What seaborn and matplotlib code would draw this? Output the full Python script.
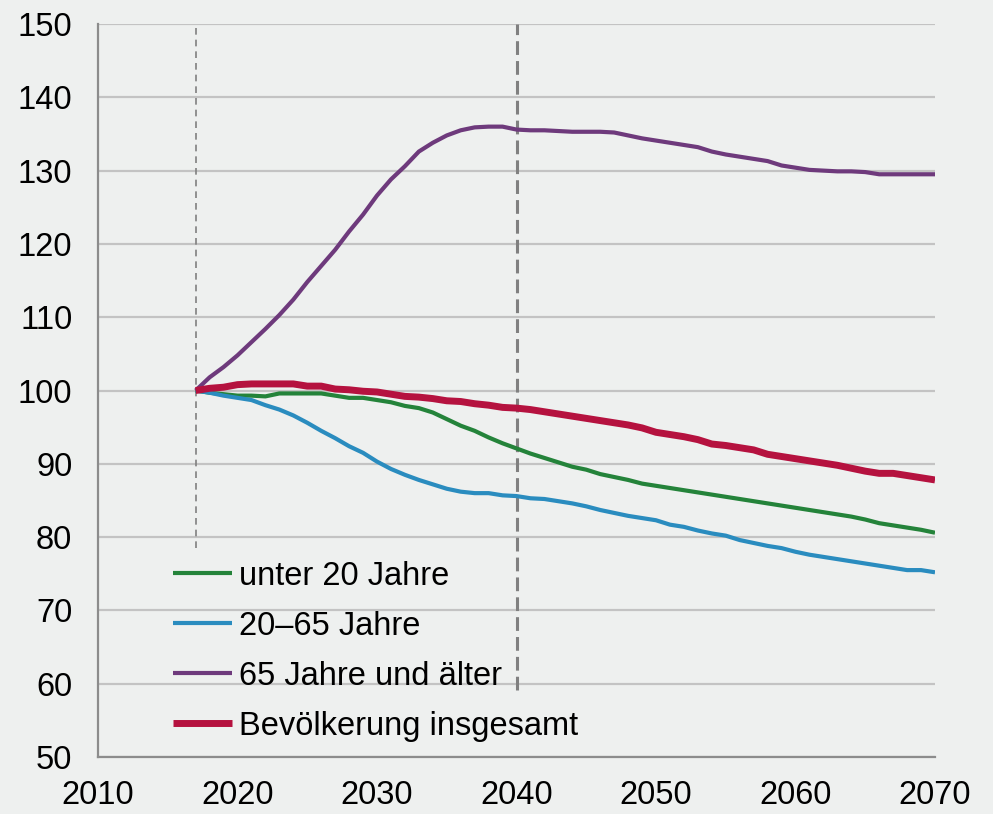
import numpy as np
import pandas as pd
import matplotlib
matplotlib.use("Agg")
import matplotlib.pyplot as plt
import seaborn as sns

# Jahre 2017 bis 2070, Index 2017 = 100
jahre = list(range(2017, 2071))

unter_20 = [100.0, 99.7, 99.5, 99.3, 99.3, 99.2, 99.6, 99.6, 99.6, 99.6,
            99.3, 99.0, 99.0, 98.7, 98.4, 97.9, 97.6, 97.0, 96.1, 95.2,
            94.5, 93.6, 92.8, 92.1, 91.4, 90.8, 90.2, 89.6, 89.2, 88.6,
            88.2, 87.8, 87.3, 87.0, 86.7, 86.4, 86.1, 85.8, 85.5, 85.2,
            84.9, 84.6, 84.3, 84.0, 83.7, 83.4, 83.1, 82.8, 82.4, 81.9,
            81.6, 81.3, 81.0, 80.6]

j20_65 = [100.0, 99.7, 99.3, 99.0, 98.7, 98.0, 97.4, 96.6, 95.6, 94.5,
          93.5, 92.4, 91.5, 90.3, 89.3, 88.5, 87.8, 87.2, 86.6, 86.2,
          86.0, 86.0, 85.7, 85.6, 85.3, 85.2, 84.9, 84.6, 84.2, 83.7,
          83.3, 82.9, 82.6, 82.3, 81.7, 81.4, 80.9, 80.5, 80.2, 79.6,
          79.2, 78.8, 78.5, 78.0, 77.6, 77.3, 77.0, 76.7, 76.4, 76.1,
          75.8, 75.5, 75.5, 75.2]

ab_65 = [100.0, 101.8, 103.2, 104.8, 106.6, 108.4, 110.3, 112.4, 114.8, 117.0,
         119.2, 121.7, 124.0, 126.6, 128.8, 130.6, 132.6, 133.8, 134.8, 135.5,
         135.9, 136.0, 136.0, 135.6, 135.5, 135.5, 135.4, 135.3, 135.3, 135.3,
         135.2, 134.8, 134.4, 134.1, 133.8, 133.5, 133.2, 132.6, 132.2, 131.9,
         131.6, 131.3, 130.7, 130.4, 130.1, 130.0, 129.9, 129.9, 129.8, 129.5,
         129.5, 129.5, 129.5, 129.5]

gesamt = [100.0, 100.3, 100.45, 100.8, 100.9, 100.9, 100.9, 100.9, 100.6, 100.6,
          100.2, 100.1, 99.9, 99.8, 99.5, 99.2, 99.1, 98.9, 98.6, 98.5,
          98.2, 98.0, 97.7, 97.6, 97.4, 97.1, 96.8, 96.5, 96.2, 95.9,
          95.6, 95.3, 94.9, 94.3, 94.0, 93.7, 93.3, 92.7, 92.5, 92.2,
          91.9, 91.3, 91.0, 90.7, 90.4, 90.1, 89.8, 89.4, 89.0, 88.7,
          88.7, 88.4, 88.1, 87.8]

serien = ["unter 20 Jahre", "20–65 Jahre", "65 Jahre und älter", "Bevölkerung insgesamt"]
farben = ["#24833a", "#2a8cbf", "#6e3a7c", "#b5123f"]
breiten = [3.0, 3.0, 3.0, 5.0]

df = pd.DataFrame({"Jahr": jahre, serien[0]: unter_20, serien[1]: j20_65,
                   serien[2]: ab_65, serien[3]: gesamt})
df_long = df.melt(id_vars="Jahr", var_name="Gruppe", value_name="Index")

sns.set_style("white")
plt.rcParams["font.family"] = ["Liberation Sans", "DejaVu Sans"]
bg = "#eef0ef"

fig = plt.figure(figsize=(9.93, 8.14), dpi=100, facecolor=bg)
ax = fig.add_axes([0.0987, 0.070, 0.8429, 0.9005])
ax.set_facecolor(bg)

for name, col, lw in zip(serien, farben, breiten):
    sns.lineplot(data=df_long[df_long["Gruppe"] == name], x="Jahr", y="Index",
                 color=col, linewidth=lw, label=name, ax=ax,
                 solid_capstyle="butt", zorder=3)

# gestrichelte Markierungen
ax.plot([2017, 2017], [78.5, 150], color="#808080", lw=1.2, ls=(0, (4, 3)), zorder=2)
ax.plot([2040, 2040], [59.2, 150], color="#808080", lw=2.2, ls=(0, (4.5, 2)), zorder=2)

ax.set_xlim(2010, 2070)
ax.set_ylim(50, 150)
ax.set_xticks(range(2010, 2071, 10))
ax.set_xticks(range(2015, 2070, 10), minor=True)
ax.set_yticks(range(50, 151, 10))
ax.yaxis.grid(True, color="#c3c3c3", lw=1.6)
ax.xaxis.grid(False)
ax.set_axisbelow(True)

for s in ["top", "right"]:
    ax.spines[s].set_visible(False)
for s in ["left", "bottom"]:
    ax.spines[s].set_color("#8c8c8c")
    ax.spines[s].set_linewidth(1.6)

ax.tick_params(axis="both", which="both", direction="out", color="#8c8c8c",
               width=1.4, length=7.5, labelsize=23.5, labelcolor="black")
ax.tick_params(axis="x", which="both", pad=9)
ax.tick_params(axis="y", pad=11)
ax.set_xlabel("")
ax.set_ylabel("")

leg = ax.legend(loc="lower left", bbox_to_anchor=(0.055, -0.019), frameon=False,
                fontsize=23.5, handlelength=1.8, handletextpad=0.2, labelspacing=0.58)
for t in leg.get_texts():
    t.set_color("black")

fig.savefig("out.png", dpi=100, facecolor=bg)
